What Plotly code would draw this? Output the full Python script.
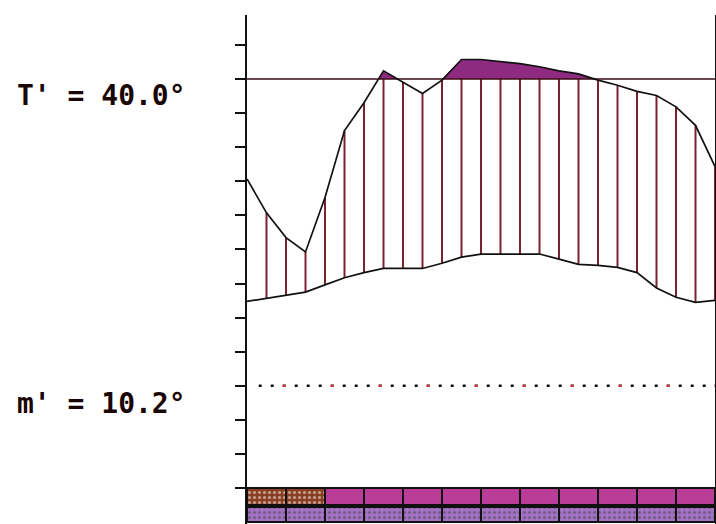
import numpy as np
import plotly.graph_objects as go

# ---------------- data ----------------
T_PRIME = 40.0   # T'
M_PRIME = 10.2   # m'

# half-month steps across the year (0 = start of Jan, 12 = end of Dec)
half_months = [i * 0.5 for i in range(25)]

upper_curve = [30.3, 27.0, 24.6, 23.2, 28.5, 35.0, 37.7, 40.8, 39.7, 38.6, 39.9,
               41.9, 41.9, 41.7, 41.5, 41.2, 40.8, 40.5, 39.9, 39.4, 38.8, 38.4,
               37.3, 35.5, 31.5]
lower_curve = [18.4, 18.7, 19.0, 19.3, 20.0, 20.7, 21.2, 21.6, 21.6, 21.6, 22.1,
               22.7, 23.0, 23.0, 23.0, 23.0, 22.5, 22.0, 21.9, 21.7, 21.2, 19.7,
               18.8, 18.3, 18.5]

months = list(range(1, 13))
row1_class = ["A", "A", "B", "B", "B", "B", "B", "B", "B", "B", "B", "B"]
row2_class = ["C"] * 12

# ---------------- styles ----------------
class_color = {"A": "#8a3e22", "B": "#b83c98", "C": "#a472c4"}
class_dots = {"A": "#a0573a", "B": None, "C": "#bb92d6"}
HATCH = "#7b2230"
SURPLUS = "#8e2a80"

step = (T_PRIME - M_PRIME) / 9.0
base0 = M_PRIME - 3 * step
tickvals = [base0 + i * step for i in range(14)]

x = np.array(half_months)
up = np.array(upper_curve)
lo = np.array(lower_curve)

fig = go.Figure()

# surplus area above T'
xs, ys = [], []
for i in range(len(x)):
    if i > 0:
        a, b = up[i - 1] - T_PRIME, up[i] - T_PRIME
        if a * b < 0:
            xc = x[i - 1] + (x[i] - x[i - 1]) * a / (a - b)
            xs.append(xc)
            ys.append(T_PRIME)
    xs.append(x[i])
    ys.append(max(up[i], T_PRIME))
poly_x = xs + xs[::-1]
poly_y = ys + [T_PRIME] * len(xs)
fig.add_trace(go.Scatter(x=poly_x, y=poly_y, fill="toself", fillcolor=SURPLUS,
                         line=dict(width=0), mode="lines", hoverinfo="skip"))

# hatch lines
hx, hy = [], []
for i in range(1, len(x)):
    hx += [x[i], x[i], None]
    hy += [lo[i], min(up[i], T_PRIME), None]
fig.add_trace(go.Scatter(x=hx, y=hy, mode="lines",
                         line=dict(color=HATCH, width=2), hoverinfo="skip"))

# T' line
fig.add_trace(go.Scatter(x=[0, 12], y=[T_PRIME, T_PRIME], mode="lines",
                         line=dict(color="#3b0d14", width=1.5), hoverinfo="skip"))

# m' dotted line
fig.add_trace(go.Scatter(x=[0.3, 12], y=[M_PRIME, M_PRIME], mode="lines",
                         line=dict(color="#111111", width=2.5, dash="3px,9px"),
                         hoverinfo="skip"))
fig.add_trace(go.Scatter(x=[0.3 + 24 / 39.0, 12], y=[M_PRIME, M_PRIME], mode="lines",
                         line=dict(color="#d04040", width=2.5, dash="3px,45px"),
                         hoverinfo="skip"))

# curves
fig.add_trace(go.Scatter(x=x, y=up, mode="lines",
                         line=dict(color="#111111", width=1.7), hoverinfo="skip"))
fig.add_trace(go.Scatter(x=x, y=lo, mode="lines",
                         line=dict(color="#111111", width=1.7), hoverinfo="skip"))

# bottom boxes
centers = [m - 0.5 for m in months]


def box_trace(classes, base, height):
    colors = [class_color[c] for c in classes]
    fg = [class_dots[c] or class_color[c] for c in classes]
    shapes = ["." if class_dots[c] else "" for c in classes]
    return go.Bar(
        x=centers, y=[height] * 12, base=[base] * 12, width=1,
        marker=dict(color=colors, line=dict(color="#111111", width=2),
                    pattern=dict(shape=shapes, fgcolor=fg,
                                 size=5, solidity=0.3, fillmode="overlay")),
        hoverinfo="skip")


fig.add_trace(box_trace(row1_class, base0, -0.5 * step))
fig.add_trace(box_trace(row2_class, base0 - 0.56 * step, -0.44 * step))

# labels
label_font = dict(family="DejaVu Sans Mono", size=28, color="#1a0505", weight="bold")
fig.add_annotation(x=-232 / 468, xref="paper", y=T_PRIME, yref="y", yshift=-16,
                   text=f"T' = {T_PRIME:.1f}°", showarrow=False,
                   xanchor="left", yanchor="middle", font=label_font)
fig.add_annotation(x=-232 / 468, xref="paper", y=M_PRIME, yref="y", yshift=-18,
                   text=f"m' = {M_PRIME:.1f}°", showarrow=False,
                   xanchor="left", yanchor="middle", font=label_font)

fig.update_layout(
    width=716, height=524,
    margin=dict(l=247, r=1, t=15, b=0),
    paper_bgcolor="white", plot_bgcolor="white",
    showlegend=False, barmode="overlay", bargap=0,
    xaxis=dict(range=[0, 12], visible=False, showgrid=False, zeroline=False),
    yaxis=dict(range=[base0 - 1.056 * step, base0 + 13.88 * step],
               tickvals=tickvals, showticklabels=False,
               ticks="outside", ticklen=10, tickwidth=2, tickcolor="#111111",
               showline=True, linecolor="#111111", linewidth=2, mirror=True,
               showgrid=False, zeroline=False),
)

fig.write_html(
    "out.html",
    config={"displayModeBar": False},
    post_script="document.body.style.margin='0';"
                "document.documentElement.style.overflow='hidden';"
                "document.body.style.overflow='hidden';",
)
